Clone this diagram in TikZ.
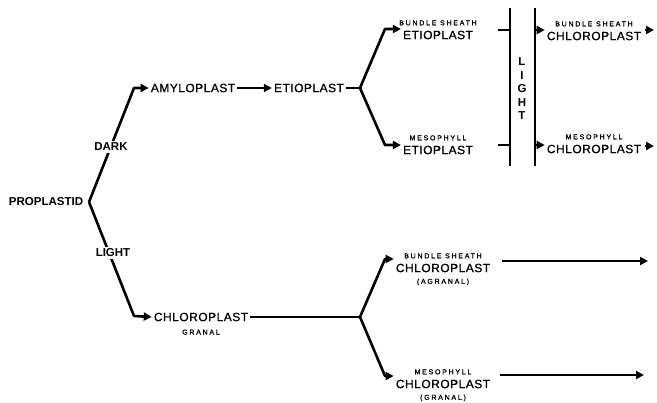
\documentclass[tikz,border=0pt]{standalone}
\usepackage{fontspec}
\setmainfont{Liberation Sans}
\newfontfamily\smallfont[LetterSpace=25,FakeBold=1.2]{Liberation Sans}
\newfontfamily\bigfont[LetterSpace=4,FakeBold=0.8]{Liberation Sans}
\usetikzlibrary{arrows.meta,positioning}
\begin{document}
\begin{tikzpicture}[x=1pt,y=-1pt,
  line cap=butt, line join=round,
  conn/.style={line width=2.6pt},
  arr/.style={conn,-{Triangle[length=8pt,width=8pt]}},
  bar/.style={line width=2.8pt},
  big/.style={font=\fontsize{12}{13}\bigfont, inner sep=2pt},
  bold/.style={font=\fontsize{11.5}{13}\selectfont\bfseries, inner sep=2pt},
  tiny/.style={font=\fontsize{7}{8}\smallfont, inner sep=0pt},
  lbl/.style={bold, fill=white, inner sep=2pt}]
\useasboundingbox (0,0) rectangle (657,403);

% nodes
\node[bold] (prop) at (46,202) {PROPLASTID};
\node[big] (amy) at (193,88) {AMYLOPLAST};
\node[big] (eti) at (309,88) {ETIOPLAST};
\node[big] (bse) at (438,35) {ETIOPLAST};
\node[tiny, above=3pt of bse.north, anchor=south] (bset) {BUNDLE SHEATH};
\node[big] (mse) at (438,150) {ETIOPLAST};
\node[tiny, above=3pt of mse.north, anchor=south] (mset) {MESOPHYLL};
\node[big] (bsc1) at (594,36) {CHLOROPLAST};
\node[tiny, above=3pt of bsc1.north, anchor=south] (bsc1t) {BUNDLE SHEATH};
\node[big] (msc1) at (594,149) {CHLOROPLAST};
\node[tiny, above=3pt of msc1.north, anchor=south] (msc1t) {MESOPHYLL};
\node[big] (chg) at (201,317) {CHLOROPLAST};
\node[tiny, below=6pt of chg.south, anchor=north] (chgt) {GRANAL};
\node[big] (bsc2) at (443,268) {CHLOROPLAST};
\node[tiny, above=3pt of bsc2.north, anchor=south] (bsc2t) {BUNDLE SHEATH};
\node[tiny, below=4pt of bsc2.south, anchor=north] (bsc2b) {(AGRANAL)};
\node[big] (msc2) at (443,384) {CHLOROPLAST};
\node[tiny, above=3pt of msc2.north, anchor=south] (msc2t) {MESOPHYLL};
\node[tiny, below=4pt of msc2.south, anchor=north] (msc2b) {(GRANAL)};

% coordinates
\coordinate (pv) at (89,202);
\coordinate (dk) at (134,88);
\coordinate (lt) at (134,316);
\coordinate (f1) at (360,88);
\coordinate (f1u) at (385,29);
\coordinate (f1d) at (385,145);
\coordinate (f2) at (360,317);
\coordinate (f2u) at (385,259);
\coordinate (f2d) at (385,376);
\coordinate (b1t) at (510,8);
\coordinate (b1b) at (510,166);
\coordinate (b2t) at (535,8);
\coordinate (b2b) at (535,166);
\coordinate (t1) at (510,30);
\coordinate (t2) at (510,145);
\coordinate (s1) at (535,30);
\coordinate (s2) at (535,145);
\coordinate (e1) at (654,30);
\coordinate (e2) at (654,146);
\coordinate (e3) at (648,261);
\coordinate (e4) at (644,375);

% left branches
\draw[arr] (pv) -- (dk) -- (amy.west);
\draw[arr] (pv) -- (lt) -- (chg.west);
\node[lbl] (dark) at (111,147) {DARK};
\node[lbl] (light) at (113,253) {LIGHT};

% amyloplast -> etioplast
\draw[arr] (amy.east) -- (eti.west);
\draw[conn] (eti.east) -- (f1);
\draw[arr] (f1) -- (f1u) -- (f1u -| bse.west);
\draw[arr] (f1) -- (f1d) -- (f1d -| mse.west);

% light bars
\draw[bar] (b1t) -- (b1b);
\draw[bar] (b2t) -- (b2b);
\node[bold, align=center, font=\fontsize{11.5}{13.5}\selectfont\bfseries] (vl) at (522,89) {L\\I\\G\\H\\T};
\draw[conn] ([xshift=-12pt]t1) -- (t1);
\draw[conn] ([xshift=-12pt]t2) -- (t2);
\draw[arr] (s1) -- (s1 -| bsc1.west);
\draw[arr] (s2) -- (s2 -| msc1.west);
\draw[arr] ([xshift=2pt]bsc1.east |- e1) -- (e1);
\draw[arr] ([xshift=2pt]msc1.east |- e2) -- (e2);

% chloroplast granal fork
\draw[conn] (chg.east) -- (f2);
\draw[arr] (f2) -- (f2u) -- (f2u -| bsc2.west);
\draw[arr] (f2) -- (f2d) -- (f2d -| msc2.west);
\draw[arr] ([xshift=10pt]bsc2.east |- e3) -- (e3);
\draw[arr] ([xshift=8pt]msc2.east |- e4) -- (e4);
\end{tikzpicture}
\end{document}
